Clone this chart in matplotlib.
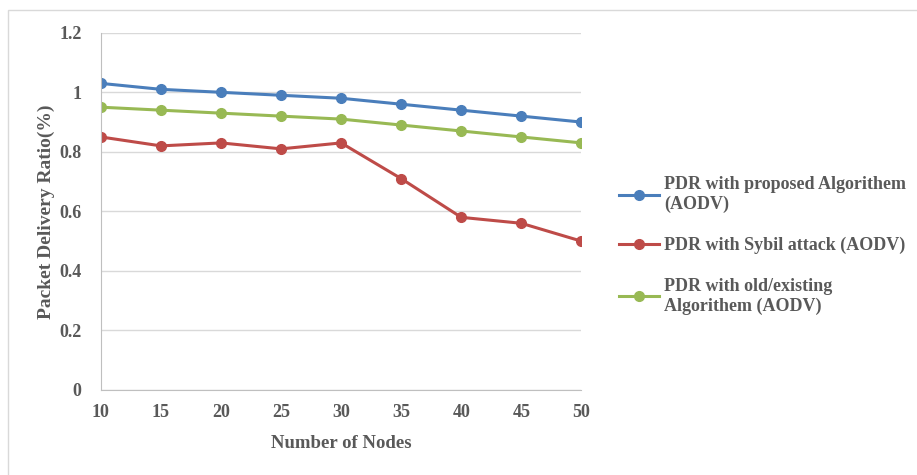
import matplotlib.pyplot as plt
from matplotlib.patches import Rectangle

nodes = [10, 15, 20, 25, 30, 35, 40, 45, 50]
pdr_proposed = [1.03, 1.01, 1.00, 0.99, 0.98, 0.96, 0.94, 0.92, 0.90]
pdr_sybil = [0.85, 0.82, 0.83, 0.81, 0.83, 0.71, 0.58, 0.56, 0.50]
pdr_existing = [0.95, 0.94, 0.93, 0.92, 0.91, 0.89, 0.87, 0.85, 0.83]

labels = ["PDR with proposed Algorithem\n(AODV)",
          "PDR with Sybil attack (AODV)",
          "PDR with old/existing\nAlgorithem (AODV)"]
colors = ['#4a7ebb', '#be4b48', '#98b954']

plt.rcParams['font.family'] = ['Liberation Serif', 'DejaVu Serif']
plt.rcParams['font.weight'] = 'bold'
plt.rcParams['axes.labelweight'] = 'bold'
text_color = '#595959'

fig = plt.figure(figsize=(9.17, 4.75), dpi=100)
ax = fig.add_axes([0.110, 0.179, 0.524, 0.752])

# outer frame of the screenshot
fig.patches.append(Rectangle((0.009, -0.01), 1.0, 0.99, transform=fig.transFigure,
                             fill=False, edgecolor='#d9d9d9', linewidth=1))

for y, lab, c in zip([pdr_proposed, pdr_sybil, pdr_existing], labels, colors):
  ax.plot(nodes, y, color=c, linewidth=2.2, marker='o', markersize=7, label=lab)

ax.set_xlim(10, 50)
ax.set_ylim(0, 1.2)
ax.set_xticks(nodes)
ax.set_yticks([0, 0.2, 0.4, 0.6, 0.8, 1.0, 1.2])
ax.set_yticklabels(['0', '0.2', '0.4', '0.6', '0.8', '1', '1.2'])
ax.tick_params(length=0, labelsize=13, colors=text_color, pad=14)
ax.tick_params(axis='x', pad=10)
ax.grid(axis='y', color='#d9d9d9', linewidth=1)
ax.set_axisbelow(True)
for s in ['top', 'right']:
  ax.spines[s].set_visible(False)
for s in ['left', 'bottom']:
  ax.spines[s].set_color('#bfbfbf')

ax.set_xlabel('Number of Nodes', fontsize=13.5, color=text_color, labelpad=10)
ax.set_ylabel('Packet Delivery Ratio(%)', fontsize=14, color=text_color, labelpad=3)

leg = ax.legend(loc='center left', bbox_to_anchor=(1.045, 0.405), frameon=False,
                fontsize=13, handlelength=2.2, handletextpad=0.3, labelspacing=1.32)
for t in leg.get_texts():
  t.set_color(text_color)

fig.savefig('out.png', dpi=100)
